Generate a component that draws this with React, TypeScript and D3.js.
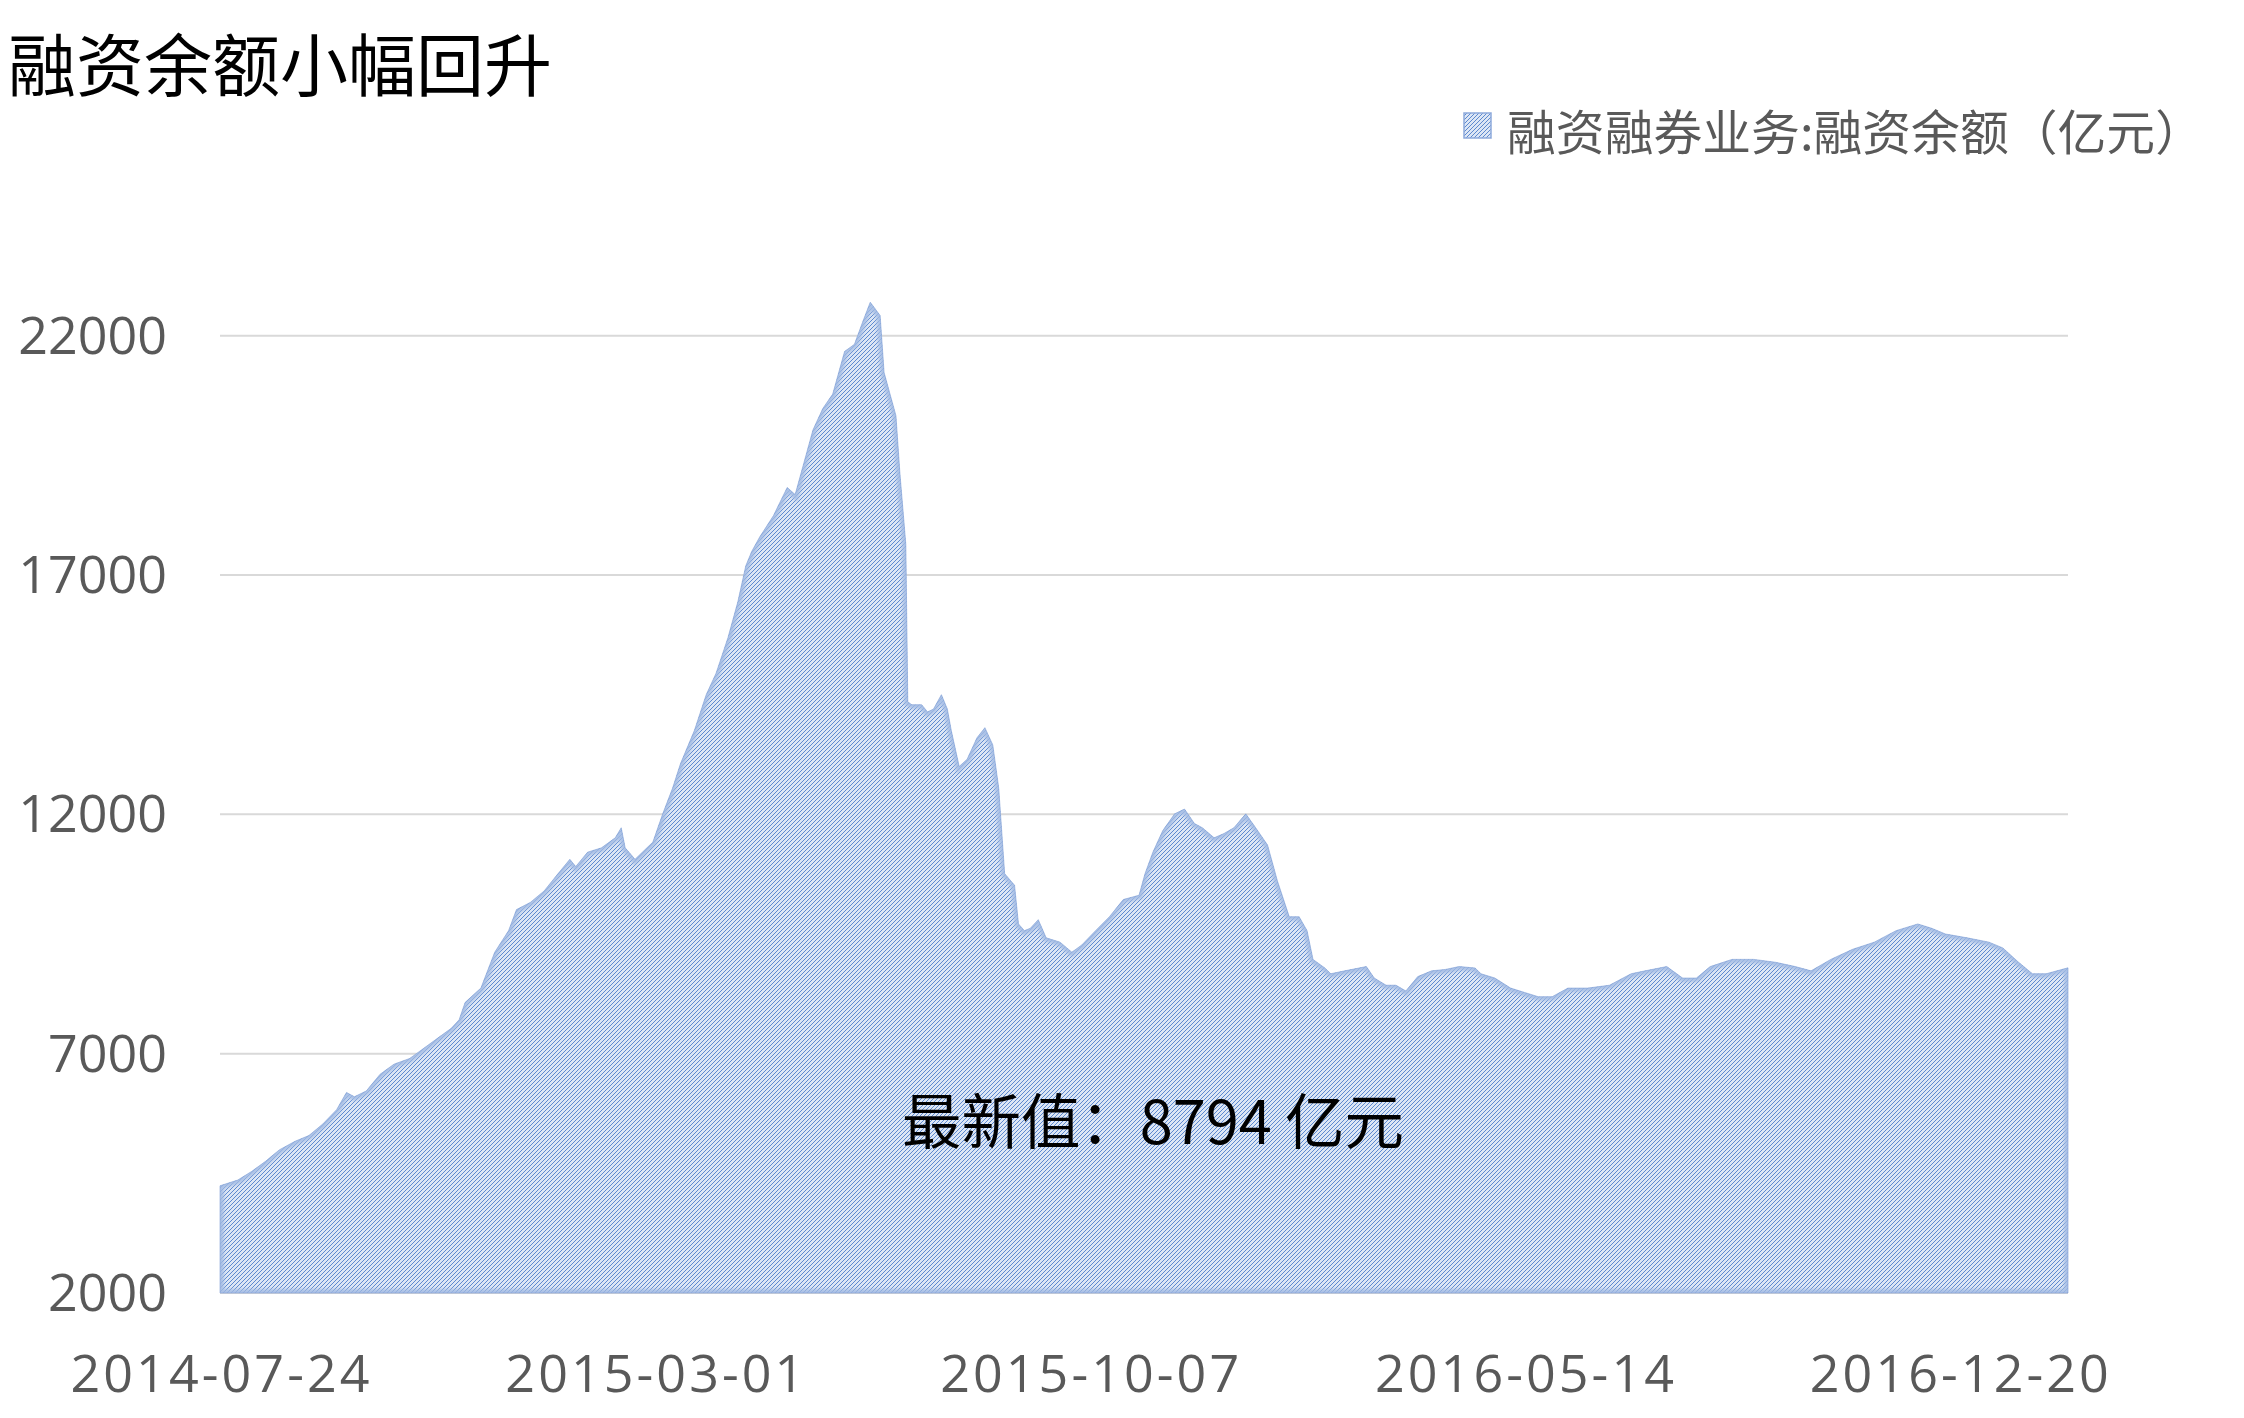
import React from "react";
import * as d3 from "d3";

const TITLE = "融资余额小幅回升";
const LEGEND_LABEL = "融资融券业务:融资余额（亿元）";
const LATEST = 8794;

const dates: string[] = [
  "2014-07-24","2014-08-02","2014-08-09","2014-08-16","2014-08-23","2014-08-31","2014-09-07","2014-09-14","2014-09-21","2014-09-26",
  "2014-09-30","2014-10-06","2014-10-13","2014-10-20","2014-10-28","2014-11-04","2014-11-11","2014-11-18","2014-11-22","2014-11-25",
  "2014-12-03","2014-12-10","2014-12-17","2014-12-21","2014-12-28","2015-01-04","2015-01-11","2015-01-17","2015-01-20","2015-01-26",
  "2015-02-02","2015-02-09","2015-02-12","2015-02-14","2015-02-19","2015-02-28","2015-03-05","2015-03-10","2015-03-14","2015-03-21",
  "2015-03-27","2015-04-01","2015-04-07","2015-04-12","2015-04-16","2015-04-19","2015-04-23","2015-04-30","2015-05-07","2015-05-11",
  "2015-05-15","2015-05-20","2015-05-25","2015-05-30","2015-06-05","2015-06-10","2015-06-14","2015-06-18","2015-06-23","2015-06-25",
  "2015-07-01","2015-07-03","2015-07-06","2015-07-07","2015-07-09","2015-07-14","2015-07-17","2015-07-20","2015-07-24","2015-07-27",
  "2015-07-29","2015-08-02","2015-08-06","2015-08-11","2015-08-15","2015-08-19","2015-08-22","2015-08-25","2015-08-30","2015-09-01",
  "2015-09-04","2015-09-07","2015-09-11","2015-09-15","2015-09-22","2015-09-28","2015-10-03","2015-10-10","2015-10-17","2015-10-24",
  "2015-11-01","2015-11-04","2015-11-08","2015-11-13","2015-11-19","2015-11-24","2015-11-29","2015-12-03","2015-12-09","2015-12-14",
  "2015-12-19","2015-12-25","2015-12-30","2016-01-05","2016-01-10","2016-01-16","2016-01-21","2016-01-25","2016-01-28","2016-02-03",
  "2016-02-06","2016-02-13","2016-02-24","2016-02-28","2016-03-05","2016-03-10","2016-03-15","2016-03-21","2016-03-28","2016-04-04",
  "2016-04-11","2016-04-19","2016-04-22","2016-04-29","2016-05-07","2016-05-14","2016-05-21","2016-05-28","2016-06-05","2016-06-15",
  "2016-06-26","2016-07-07","2016-07-14","2016-07-25","2016-08-02","2016-08-09","2016-08-16","2016-08-27","2016-09-07","2016-09-18",
  "2016-09-28","2016-10-06","2016-10-16","2016-10-27","2016-11-07","2016-11-18","2016-11-29","2016-12-06","2016-12-13","2016-12-24",
  "2017-01-04","2017-01-11","2017-01-19","2017-01-26","2017-02-02","2017-02-13",
];

const values: number[] = [
  4240,4360,4540,4750,4990,5170,5290,5530,5830,6190,
  6100,6220,6570,6780,6900,7110,7320,7530,7710,8070,
  8370,9120,9570,10010,10160,10400,10760,11060,10910,11210,
  11300,11510,11720,11300,11060,11420,12010,12550,13060,13750,
  14500,14950,15690,16440,17190,17490,17790,18240,18830,18680,
  19280,20030,20480,20780,21670,21820,22270,22700,22420,21230,
  20330,19130,17640,14350,14290,14290,14140,14200,14500,14200,
  13750,13000,13150,13600,13810,13450,12550,10760,10520,9710,
  9570,9620,9800,9420,9330,9120,9270,9570,9860,10220,
  10310,10760,11210,11660,12010,12110,11810,11720,11510,11600,
  11720,12010,11720,11360,10610,9860,9860,9570,8970,8790,
  8670,8730,8820,8580,8430,8430,8310,8610,8730,8760,
  8820,8790,8670,8580,8370,8280,8190,8190,8370,8370,
  8430,8670,8730,8820,8580,8580,8820,8970,8970,8910,
  8820,8730,8970,9180,9330,9570,9710,9620,9500,9420,
  9330,9210,8910,8670,8670,LATEST,
];

const yTicks: number[] = [2000, 7000, 12000, 17000, 22000];
const xTickLabels: string[] = ["2014-07-24", "2015-03-01", "2015-10-07", "2016-05-14", "2016-12-20"];

const W = 2244;
const H = 1418;
const M = { left: 220, right: 2068, top: 335.7, bottom: 1293 };

export default function App() {
  const parse = d3.timeParse("%Y-%m-%d");
  const data = dates.map((d, i) => ({ date: parse(d) as Date, value: values[i] }));

  const x = d3
    .scaleTime()
    .domain([data[0].date, data[data.length - 1].date])
    .range([M.left, M.right]);
  const y = d3.scaleLinear().domain([2000, 22000]).range([M.bottom, M.top]);

  const area = d3
    .area<{ date: Date; value: number }>()
    .x((d) => x(d.date))
    .y0(y(2000))
    .y1((d) => y(d.value))
    .curve(d3.curveLinear);
  const areaPath = area(data) || "";

  const axisFont = "'Open Sans', 'Noto Sans', 'Noto Sans CJK SC', sans-serif";
  const cjkFont = "'Noto Sans CJK SC', 'Noto Sans', sans-serif";

  return (
    <svg
      width={W}
      height={H}
      style={{ position: "absolute", left: 0, top: 0, display: "block", background: "#fff" }}
    >
      <defs>
        <pattern id="hatch" width={4} height={4} patternUnits="userSpaceOnUse">
          <rect width={4} height={4} fill="#dce6f5" />
          <path d="M-1,1 L1,-1 M0,4 L4,0 M3,5 L5,3" stroke="#4f7fcb" strokeWidth={0.9} />
        </pattern>
        <clipPath id="areaClip">
          <path d={areaPath} />
        </clipPath>
        <filter id="soft" x="-5%" y="-5%" width="110%" height="110%">
          <feGaussianBlur stdDeviation={1.6} />
        </filter>
      </defs>

      {/* title */}
      <text x={8} y={91} fontFamily={cjkFont} fontSize={68} fill="#000">
        {TITLE}
      </text>

      {/* legend */}
      <rect x={1464} y={113} width={27} height={25} fill="url(#hatch)" stroke="#8eaadb" strokeWidth={1.5} />
      <text
        x={1507}
        y={129}
        dominantBaseline="central"
        fontFamily={cjkFont}
        fontSize={48}
        fill="#595959"
        textLength={697}
        lengthAdjust="spacingAndGlyphs"
      >
        {LEGEND_LABEL}
      </text>

      {/* gridlines */}
      {yTicks.map((t) => (
        <line key={t} x1={M.left} x2={M.right} y1={y(t)} y2={y(t)} stroke="#d9d9d9" strokeWidth={2} />
      ))}

      {/* area */}
      <path d={areaPath} fill="url(#hatch)" />
      <g clipPath="url(#areaClip)">
        <path d={areaPath} fill="none" stroke="#a3bbe3" strokeWidth={8} filter="url(#soft)" opacity={0.85} />
      </g>
      <path d={areaPath} fill="none" stroke="#7f9fd6" strokeWidth={1} opacity={0.6} />

      {/* y labels */}
      {yTicks.map((t) => (
        <text key={t} x={167} y={y(t) + 18} textAnchor="end" fontFamily={axisFont} fontSize={52} fill="#595959">
          {t}
        </text>
      ))}

      {/* x labels */}
      {xTickLabels.map((s) => (
        <text
          key={s}
          x={x(parse(s) as Date)}
          y={1392}
          textAnchor="middle"
          fontFamily={axisFont}
          fontSize={52}
          fill="#595959"
          textLength={299}
          lengthAdjust="spacing"
        >
          {s}
        </text>
      ))}

      {/* annotation */}
      <text
        x={902}
        y={1117}
        dominantBaseline="central"
        fontFamily={cjkFont}
        fontSize={60}
        fill="#000"
        textLength={502}
        lengthAdjust="spacingAndGlyphs"
      >
        {`最新值：${LATEST} 亿元`}
      </text>
    </svg>
  );
}
